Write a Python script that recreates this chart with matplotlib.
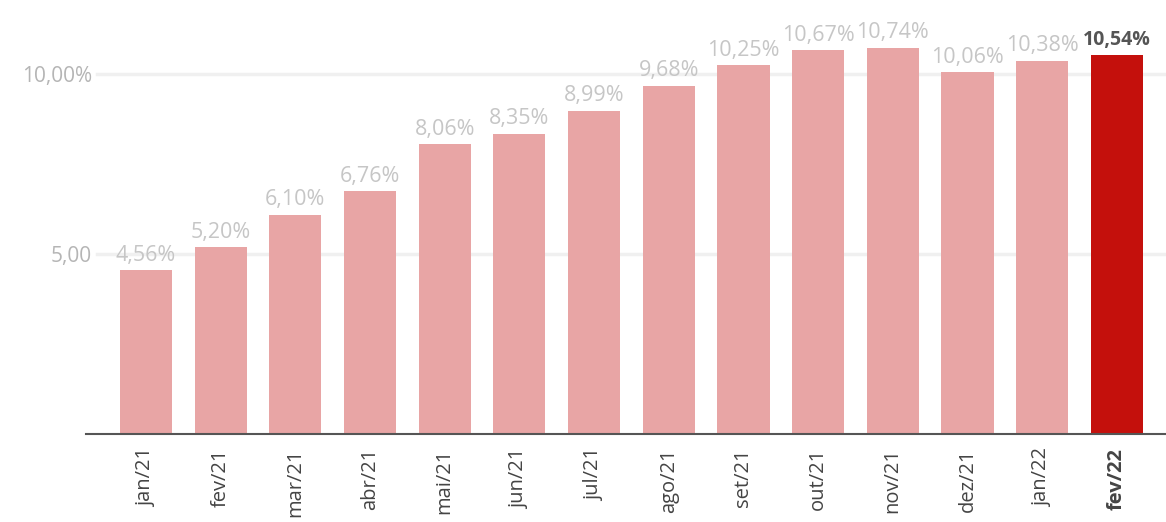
import matplotlib
matplotlib.use("Agg")
import matplotlib.pyplot as plt

# Data
months = ["jan/21", "fev/21", "mar/21", "abr/21", "mai/21", "jun/21", "jul/21",
          "ago/21", "set/21", "out/21", "nov/21", "dez/21", "jan/22", "fev/22"]
values = [4.56, 5.20, 6.10, 6.76, 8.06, 8.35, 8.99,
          9.68, 10.25, 10.67, 10.74, 10.06, 10.38, 10.54]
labels = ["4,56%", "5,20%", "6,10%", "6,76%", "8,06%", "8,35%", "8,99%",
          "9,68%", "10,25%", "10,67%", "10,74%", "10,06%", "10,38%", "10,54%"]

plt.rcParams['font.family'] = ['Open Sans', 'DejaVu Sans']

fig = plt.figure(figsize=(11.66, 5.22), dpi=100)
ax = fig.add_axes([0.074, 0.168, 0.926, 0.832])

n = len(values)
colors = ["#e8a5a5"] * (n - 1) + ["#c4100c"]
x = list(range(n))
ax.bar(x, values, width=0.70, color=colors, zorder=2)

for i, (v, lab) in enumerate(zip(values, labels)):
    last = i == n - 1
    ax.text(i, v + 0.12, lab, ha="center", va="bottom",
            fontsize=15.5 if not last else 14,
            color="#555555" if last else "#c6c6c6",
            fontweight="bold" if last else "normal", zorder=3)

ax.set_xlim(-0.80, n - 1 + 0.66)
ax.set_ylim(0, 12.06)

# Grid lines
for g in (5, 10):
    ax.axhline(g, xmin=0.01, color="#f0f0f0", lw=2.5, zorder=1)

ax.set_yticks([5, 10])
ax.set_yticklabels(["5,00", "10,00%"], fontsize=15, color="#b5b5b5")
ax.tick_params(axis="y", length=0, pad=-4)

ax.set_xticks(x)
ax.set_xticklabels(months, rotation=90, fontsize=14.5, color="#444444")
ax.get_xticklabels()[-1].set_fontweight("bold")
ax.tick_params(axis="x", length=0, pad=10)

for s in ("top", "right", "left"):
    ax.spines[s].set_visible(False)
ax.spines["bottom"].set_color("#555555")
ax.spines["bottom"].set_linewidth(1.5)

fig.savefig("out.png", dpi=100)
